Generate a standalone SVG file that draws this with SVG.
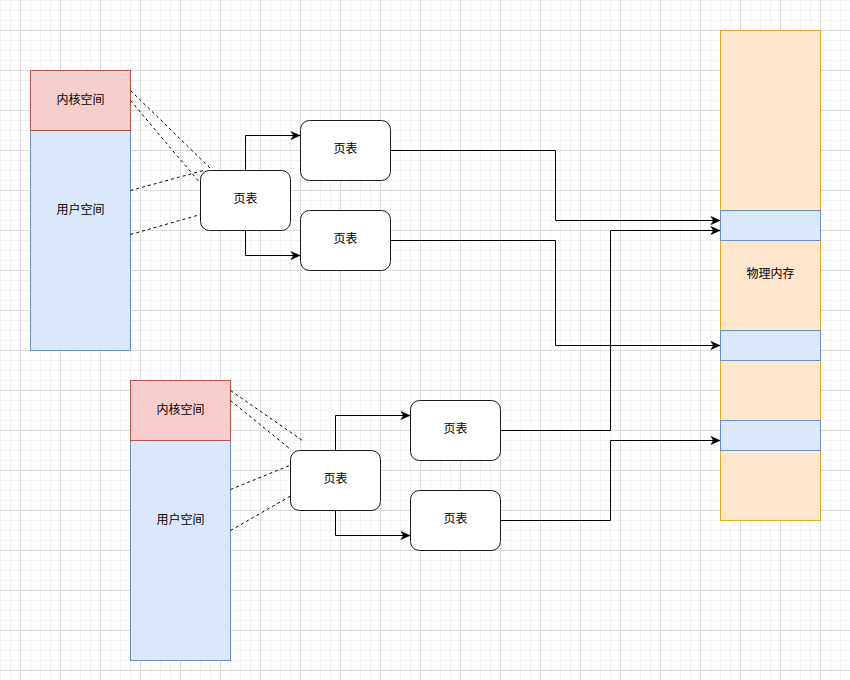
<svg xmlns="http://www.w3.org/2000/svg" width="850" height="680" viewBox="0 0 850 680">
  <defs>
    <!-- 40px major grid with 10px minor lines -->
    <pattern id="grid" patternUnits="userSpaceOnUse" x="20" y="30" width="40" height="40">
      <rect x="0" y="0" width="40" height="40" fill="#ffffff"/>
      <g fill="#f3f3f3">
        <rect x="10" y="0" width="1" height="40"/>
        <rect x="20" y="0" width="1" height="40"/>
        <rect x="30" y="0" width="1" height="40"/>
        <rect x="0" y="10" width="40" height="1"/>
        <rect x="0" y="20" width="40" height="1"/>
        <rect x="0" y="30" width="40" height="1"/>
      </g>
      <g fill="#dcdcdc">
        <rect x="0" y="0" width="1" height="40"/>
        <rect x="0" y="0" width="40" height="1"/>
      </g>
    </pattern>
    <marker id="arrow" markerUnits="userSpaceOnUse" markerWidth="12" markerHeight="10" viewBox="-10 -5 12 10" refX="0" refY="0" orient="auto">
      <path d="M0,0 L-9,-4 L-6.5,0 L-9,4 Z" fill="#000" stroke="#000" stroke-width="0.6" stroke-linejoin="miter"/>
    </marker>
    <style>
      .kernel { fill: #f8cecc; stroke: #b85450; stroke-width: 1; }
      .user { fill: #dae8fc; stroke: #6c8ebf; stroke-width: 1; }
      .mem { fill: #ffe6cc; stroke: #e0ac2e; stroke-width: 1; }
      .slot { fill: #dae8fc; stroke: #6c8ebf; stroke-width: 1; }
      .pt { fill: #ffffff; stroke: #1a1a1a; stroke-width: 1; }
      .label { font-family: "Liberation Sans", "Noto Sans CJK SC", sans-serif; font-size: 12px; fill: #000; text-anchor: middle; dominant-baseline: central; }
      .edge { fill: none; stroke: #000; stroke-width: 1; }
      .dash { fill: none; stroke: #000; stroke-width: 1; stroke-dasharray: 3 3; }
    </style>
  </defs>

  <rect x="0" y="0" width="850" height="680" fill="url(#grid)"/>

  <!-- process 1 address space -->
  <g id="proc1">
    <rect class="user" x="30.5" y="70.5" width="100" height="280"/>
    <rect class="kernel" x="30.5" y="70.5" width="100" height="60"/>
    <text class="label" x="80.5" y="99.5">内核空间</text>
    <text class="label" x="80.5" y="209.5">用户空间</text>
  </g>

  <!-- process 2 address space -->
  <g id="proc2">
    <rect class="user" x="130.5" y="380.5" width="100" height="280"/>
    <rect class="kernel" x="130.5" y="380.5" width="100" height="60"/>
    <text class="label" x="180.5" y="409.5">内核空间</text>
    <text class="label" x="180.5" y="519.5">用户空间</text>
  </g>

  <!-- physical memory with mapped frames -->
  <g id="physmem">
    <rect class="mem" x="720.5" y="30.5" width="100" height="490"/>
    <rect class="slot" x="720.5" y="210.5" width="100" height="30"/>
    <rect class="slot" x="720.5" y="330.5" width="100" height="30"/>
    <rect class="slot" x="720.5" y="420.5" width="100" height="30"/>
    <text class="label" x="770.5" y="274">物理内存</text>
  </g>

  <!-- page tables -->
  <g id="pt1">
    <rect class="pt" x="200.5" y="170.5" width="90" height="60" rx="9"/>
    <text class="label" x="245.5" y="199">页表</text>
  </g>
  <g id="pt1a">
    <rect class="pt" x="300.5" y="120.5" width="90" height="60" rx="9"/>
    <text class="label" x="345.5" y="149">页表</text>
  </g>
  <g id="pt1b">
    <rect class="pt" x="300.5" y="210.5" width="90" height="60" rx="9"/>
    <text class="label" x="345.5" y="239">页表</text>
  </g>
  <g id="pt2">
    <rect class="pt" x="290.5" y="450.5" width="90" height="60" rx="9"/>
    <text class="label" x="335.5" y="479">页表</text>
  </g>
  <g id="pt2a">
    <rect class="pt" x="410.5" y="400.5" width="90" height="60" rx="9"/>
    <text class="label" x="455.5" y="429">页表</text>
  </g>
  <g id="pt2b">
    <rect class="pt" x="410.5" y="490.5" width="90" height="60" rx="9"/>
    <text class="label" x="455.5" y="519">页表</text>
  </g>

  <g id="connectors">
    <!-- address space to top-level page table -->
    <path class="dash" d="M130.5,90.5 L210.5,168.5"/>
    <path class="dash" d="M130.5,100.5 L200.5,183.5"/>
    <path class="dash" d="M130.5,190.5 L203.5,170.5"/>
    <path class="dash" d="M130.5,234.5 L200.5,214.5"/>
    <path class="dash" d="M230.5,390.5 L302.5,440.5"/>
    <path class="dash" d="M230.5,400.5 L289.5,448.5"/>
    <path class="dash" d="M230.5,489.5 L289.5,465.5"/>
    <path class="dash" d="M230.5,530.5 L291.5,495.5"/>

    <!-- top-level to second-level tables -->
    <path class="edge" d="M245.5,170.5 V135.5 H300" marker-end="url(#arrow)"/>
    <path class="edge" d="M245.5,230.5 V255.5 H300" marker-end="url(#arrow)"/>
    <path class="edge" d="M335.5,450.5 V415.5 H410" marker-end="url(#arrow)"/>
    <path class="edge" d="M335.5,510.5 V535.5 H410" marker-end="url(#arrow)"/>

    <!-- second-level tables to physical frames -->
    <path class="edge" d="M390.5,150.5 H555.5 V220.5 H720" marker-end="url(#arrow)"/>
    <path class="edge" d="M390.5,240.5 H555.5 V345.5 H720" marker-end="url(#arrow)"/>
    <path class="edge" d="M500.5,430.5 H610.5 V230.5 H720" marker-end="url(#arrow)"/>
    <path class="edge" d="M500.5,520.5 H610.5 V440.5 H720" marker-end="url(#arrow)"/>
  </g>
</svg>
